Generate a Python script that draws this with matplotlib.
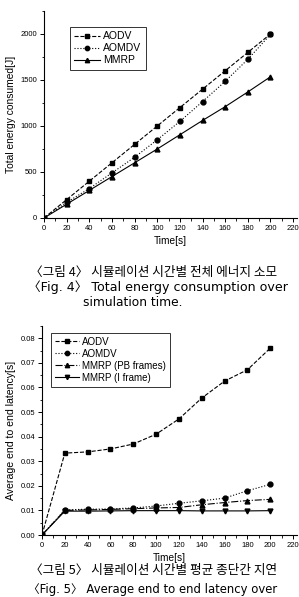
import matplotlib
matplotlib.use('Agg')
import matplotlib.pyplot as plt
from matplotlib.ticker import MultipleLocator, FormatStrFormatter

# time axis shared by both charts
time_s = [0, 20, 40, 60, 80, 100, 120, 140, 160, 180, 200]

# figure 4: total energy consumed [J]
energy_aodv = [0, 200, 400, 600, 800, 1000, 1200, 1400, 1600, 1800, 2000]
energy_aomdv = [0, 170, 320, 490, 660, 850, 1050, 1265, 1485, 1725, 1995]
energy_mmrp = [0, 150, 300, 450, 600, 750, 905, 1060, 1210, 1370, 1535]

# figure 5: average end to end latency [s]
lat_aodv = [0, 0.0333, 0.0338, 0.0350, 0.0370, 0.0410, 0.0472, 0.0557, 0.0626, 0.0672, 0.0760]
lat_aomdv = [0, 0.0102, 0.0105, 0.0106, 0.0110, 0.0118, 0.0129, 0.0139, 0.0150, 0.0180, 0.0206]
lat_mmrp_pb = [0, 0.0100, 0.0102, 0.0104, 0.0107, 0.0110, 0.0112, 0.0123, 0.0132, 0.0140, 0.0145]
lat_mmrp_i = [0, 0.0097, 0.0097, 0.0098, 0.0099, 0.0099, 0.0099, 0.0098, 0.0098, 0.0098, 0.0099]

caption4 = ['〈그림 4〉 시뮬레이션 시간별 전체 에너지 소모',
            '〈Fig. 4〉 Total energy consumption over',
            'simulation time.']
caption5 = ['〈그림 5〉 시뮬레이션 시간별 평균 종단간 지연',
            '〈Fig. 5〉 Average end to end latency over']

plt.rcParams['font.family'] = ['Liberation Sans', 'DejaVu Sans']

W, H = 299, 597
fig = plt.figure(figsize=(W / 100, H / 100), dpi=100)


def px_axes(x0, y_top, x1, y_bot):
    return fig.add_axes([x0 / W, 1 - y_bot / H, (x1 - x0) / W, (y_bot - y_top) / H])


def style(ax):
    for s in ['top', 'right']:
        ax.spines[s].set_visible(False)
    for s in ['left', 'bottom']:
        ax.spines[s].set_linewidth(0.8)
    ax.tick_params(which='major', direction='out', length=3, width=0.7, labelsize=5.5, pad=2)
    ax.tick_params(which='minor', direction='out', length=1.8, width=0.6)
    ax.xaxis.set_major_locator(MultipleLocator(20))
    ax.xaxis.set_minor_locator(MultipleLocator(10))
    ax.set_xlim(0, 223)
    ax.set_xlabel('Time[s]', fontsize=7.3, labelpad=3)


def legend(ax, x, y, fs):
    lg = ax.legend(loc='upper left', bbox_to_anchor=(x / W, 1 - y / H), bbox_transform=fig.transFigure,
                   fontsize=fs, frameon=True, fancybox=False, edgecolor='black', handlelength=2.5,
                   handletextpad=0.3, borderpad=0.4, labelspacing=0.2, markerscale=0.9,
                   borderaxespad=0)
    lg.get_frame().set_linewidth(0.7)


ms = 3.5
lw = 0.8

# top chart
ax1 = px_axes(44, 11, 296.5, 218)
style(ax1)
ax1.plot(time_s, energy_aodv, 'k--', marker='s', ms=ms, lw=lw, label='AODV')
ax1.plot(time_s, energy_aomdv, 'k:', marker='o', ms=ms, lw=lw, label='AOMDV')
ax1.plot(time_s, energy_mmrp, 'k-', marker='^', ms=ms, lw=lw, label='MMRP')
ax1.set_ylim(0, 2250)
ax1.yaxis.set_major_locator(MultipleLocator(500))
ax1.yaxis.set_minor_locator(MultipleLocator(250))
ax1.set_ylabel('Total energy consumed[J]', fontsize=7.4, labelpad=3)
legend(ax1, 70, 27, 7.5)

# bottom chart
ax2 = px_axes(42, 326, 296.5, 535)
style(ax2)
ax2.plot(time_s, lat_aodv, 'k--', marker='s', ms=ms, lw=lw, label='AODV')
ax2.plot(time_s, lat_aomdv, 'k:', marker='o', ms=ms, lw=lw, label='AOMDV')
ax2.plot(time_s, lat_mmrp_pb, 'k-.', marker='^', ms=ms, lw=lw, label='MMRP (PB frames)')
ax2.plot(time_s, lat_mmrp_i, 'k-', marker='v', ms=ms, lw=lw, label='MMRP (I frame)')
ax2.set_ylim(0, 0.085)
ax2.yaxis.set_major_locator(MultipleLocator(0.01))
ax2.yaxis.set_minor_locator(MultipleLocator(0.005))
ax2.yaxis.set_major_formatter(FormatStrFormatter('%.2f'))
ax2.set_ylabel('Average end to end latency[s]', fontsize=7.6, labelpad=3)
legend(ax2, 51, 333, 7.0)

# captions
kr_font = ['Noto Sans CJK KR', 'DejaVu Sans']
en_font = ['DejaVu Sans', 'Noto Sans CJK KR']
fig.text(30 / W, 1 - 272 / H, caption4[0], fontsize=9.1, family=kr_font, va='center', ha='left')
fig.text(28 / W, 1 - 287 / H, caption4[1], fontsize=9.1, family=en_font, va='center', ha='left')
fig.text(83 / W, 1 - 303 / H, caption4[2], fontsize=8.8, family=en_font, va='center', ha='left')
fig.text(30 / W, 1 - 570 / H, caption5[0], fontsize=9.1, family=kr_font, va='center', ha='left')
fig.text(28 / W, 1 - 589 / H, caption5[1], fontsize=8.4, family=en_font, va='center', ha='left')

fig.savefig('out.png', dpi=100)
